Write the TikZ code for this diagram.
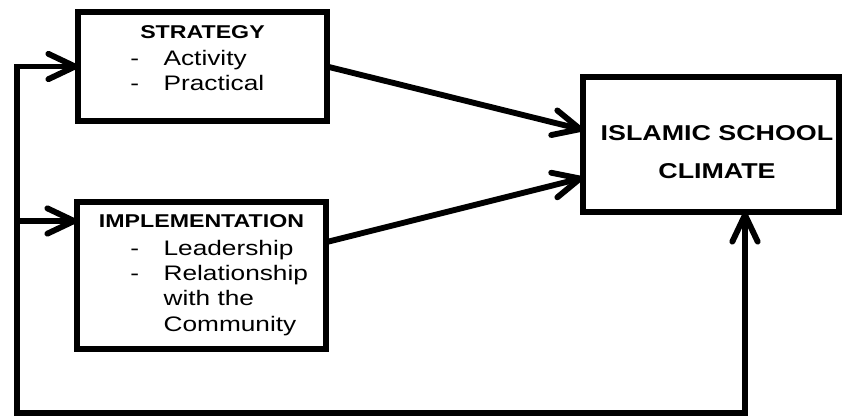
\documentclass[tikz,border=0pt]{standalone}
\usepackage{fontspec}
\setmainfont{Liberation Sans}[FakeStretch=1.25]
\usetikzlibrary{arrows.meta}

\newcommand{\lw}{4.4pt}

\tikzset{
	barb/.tip={Straight Barb[length=20pt, width=19pt, round]},
	box/.style={draw, line width=\lw, inner sep=0pt, outer sep=0pt},
	flow/.style={line width=\lw, -barb},
	feedback/.style={line width=\lw, barb-barb},
	head/.style={anchor=base, inner sep=0pt, font=\fontsize{13.9}{16}\selectfont\bfseries},
	items/.style={anchor=base west, inner sep=0pt, font=\fontsize{15.75}{19}\selectfont},
	title/.style={anchor=base, inner sep=0pt, align=center, font=\fontsize{16.1}{28.5}\selectfont\bfseries},
}

\begin{document}
\begin{tikzpicture}[x=0.75pt, y=-0.75pt]
	\useasboundingbox (0,0) rectangle (843,419);
		% boxes
		\node[box, minimum width=186.75pt, minimum height=81.75pt] (strategy) at (202.5,66.5) {};
		\node[box, minimum width=186.75pt, minimum height=110.25pt] (implementation) at (201.5,275.5) {};
		\node[box, minimum width=192pt, minimum height=101.25pt] (climate) at (711,144.5) {};
		% texts
		\node[head] (strategyHead) at (202.5,38) {STRATEGY};
		\node[items] (strategyItems) at (130,65) {\begin{tabular}[t]{@{}p{25pt}@{}l@{}} - & Activity\\ - & Practical\end{tabular}};
		\node[head] (implementationHead) at (201.5,227) {IMPLEMENTATION};
		\node[items] (implementationItems) at (130,255) {\begin{tabular}[t]{@{}p{25pt}@{}l@{}} - & Leadership\\ - & Relationship\\ & with the\\ & Community\end{tabular}};
		\node[title] (climateText) at (717,178) {ISLAMIC SCHOOL\\CLIMATE};
		% arrows
		\coordinate (loopCorner) at (17,413);
		\coordinate (implementationIn) at ([yshift=-14.25pt]implementation.north west);
		\coordinate (climateIn) at ([xshift=121.5pt]climate.south west);
		\draw[feedback] (strategy.west) -| (loopCorner) -| (climateIn); % feedback loop
		\draw[flow] (loopCorner |- implementationIn) -- (implementationIn);
		\draw[flow] (strategy.east) -- ([yshift=11pt]climate.west);
		\draw[flow] ([yshift=25pt]implementation.east) -- ([yshift=-25pt]climate.west);
\end{tikzpicture}
\end{document}
